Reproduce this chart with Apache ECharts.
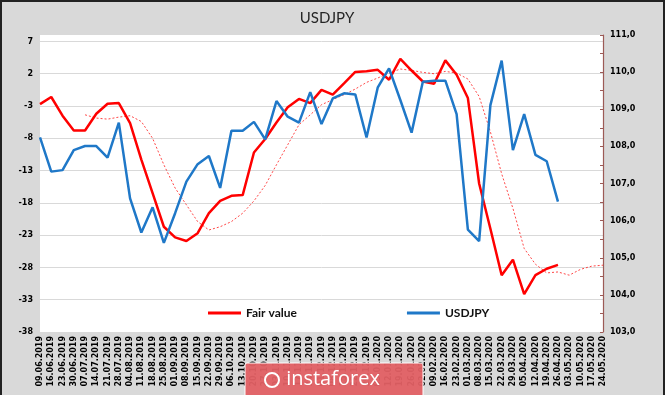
<!DOCTYPE html>
<html>
<head>
<meta charset="utf-8">
<script src="https://cdn.jsdelivr.net/npm/echarts@6/dist/echarts.min.js"></script>
<style>
html,body{margin:0;padding:0;background:#d9d9d9;}
#c{width:665px;height:395px;}
</style>
</head>
<body>
<div id="c"></div>
<script>
const categories = ["09.06.2019","16.06.2019","23.06.2019","30.06.2019","07.07.2019","14.07.2019","21.07.2019","28.07.2019","04.08.2019","11.08.2019","18.08.2019","25.08.2019","01.09.2019","08.09.2019","15.09.2019","22.09.2019","29.09.2019","06.10.2019","13.10.2019","20.10.2019","27.10.2019","03.11.2019","10.11.2019","17.11.2019","24.11.2019","01.12.2019","08.12.2019","15.12.2019","22.12.2019","29.12.2019","05.01.2020","12.01.2020","19.01.2020","26.01.2020","02.02.2020","09.02.2020","16.02.2020","23.02.2020","01.03.2020","08.03.2020","15.03.2020","22.03.2020","29.03.2020","05.04.2020","12.04.2020","19.04.2020","26.04.2020","03.05.2020","10.05.2020","17.05.2020","24.05.2020"];

const fairValue = [-2.7,-1.6,-4.5,-6.8,-6.8,-4.2,-2.65,-2.55,-5.65,-11.3,-16.5,-21.7,-23.35,-23.9,-22.7,-19.6,-17.7,-16.9,-16.8,-10.2,-8.1,-5.55,-3.2,-1.9,-2.55,-0.5,-1.25,0.5,2.27,2.4,2.6,1.07,4.3,2.5,0.8,0.45,4.07,1.85,-1.77,-15,-22,-29.2,-26.8,-32.15,-29.2,-28.2,-27.6];

const usdjpy = [108.24,107.32,107.36,107.9,108.01,108.01,107.7,108.64,106.6,105.68,106.36,105.4,106.2,107.05,107.52,107.74,106.88,108.42,108.42,108.66,108.19,109.22,108.8,108.64,109.46,108.6,109.29,109.43,109.4,108.24,109.59,110.1,109.25,108.37,109.74,109.77,109.77,108.87,105.76,105.45,109.11,110.31,107.9,108.87,107.77,107.6,106.51];

const fairValueTrend = [null,null,null,null,-4.36,-4.87,-5.03,-4.72,-4.5,-5.4,-8.0,-12.1,-15.7,-18.3,-20.9,-22.2,-21.7,-20.9,-19.6,-17.7,-15.3,-12.1,-9.0,-5.9,-4.36,-2.8,-2.0,-1.25,-0.37,0.66,1.34,2.11,2.73,2.52,2.21,2.0,2.36,2.11,1.18,-1.52,-7.0,-13.5,-18.85,-25.06,-27.5,-28.85,-28.7,-29.2,-28.3,-27.8,-27.65];

const leftAxis = {min:-38, max:8, interval:5};
const rightAxis = {min:103, max:111, interval:1};

const chart = echarts.init(document.getElementById('c'), null, {renderer:'canvas'});
const lblFont = {fontFamily:'DejaVu Sans', fontWeight:'bold', fontSize:8, color:'#000'};

chart.setOption({
  backgroundColor:'#d9d9d9',
  animation:false,
  title:{
    text:'USDJPY', left:322, top:6, textAlign:'center',
    textStyle:{fontFamily:'Lato', fontWeight:'normal', fontSize:15, color:'#262626'}
  },
  legend:{
    data:['Fair value','USDJPY'],
    left:203, top:302, itemGap:110, itemWidth:33, itemHeight:3, icon:'rect',
    textStyle:{fontFamily:'Lato', fontWeight:'bold', fontSize:12, color:'#111'}
  },
  grid:{left:40, right:62, top:35, bottom:63, show:true, backgroundColor:'#ffffff', borderWidth:0, containLabel:false},
  xAxis:{
    type:'category', data:categories, boundaryGap:false,
    axisLine:{show:false}, axisTick:{show:false},
    axisLabel:Object.assign({rotate:90, interval:0, margin:4}, lblFont),
    splitLine:{show:false}
  },
  yAxis:[
    {
      type:'value', position:'left', min:leftAxis.min, max:leftAxis.max, interval:leftAxis.interval,
      axisLine:{show:false}, axisTick:{show:false},
      axisLabel:Object.assign({margin:7, showMaxLabel:false}, lblFont),
      splitLine:{show:true, showMaxLine:false, lineStyle:{color:'#d9d9d9', width:1}}
    },
    {
      type:'value', position:'right', min:rightAxis.min, max:rightAxis.max, interval:rightAxis.interval,
      axisLine:{show:true, onZero:false, lineStyle:{color:'#9c5a56', width:1.2}},
      axisTick:{show:true, inside:true, length:3, lineStyle:{color:'#9c5a56'}},
      minorTick:{show:true, splitNumber:2, length:3, lineStyle:{color:'#9c5a56'}},
      axisLabel:Object.assign({margin:7, formatter:v=>v.toFixed(1).replace('.',',')}, lblFont),
      splitLine:{show:false}
    }
  ],
  series:[
    {
      name:'Fair value', type:'line', yAxisIndex:0, data:fairValue,
      symbol:'none', lineStyle:{color:'#ff0000', width:2.5}, itemStyle:{color:'#ff0000'}, z:3
    },
    {
      name:'Trend', type:'line', yAxisIndex:0, data:fairValueTrend,
      symbol:'none', smooth:false, lineStyle:{color:'rgba(255,40,40,0.85)', width:1, type:[2,2]}, z:2
    },
    {
      name:'USDJPY', type:'line', yAxisIndex:1, data:usdjpy,
      symbol:'none', lineStyle:{color:'#1f78c8', width:2.5}, itemStyle:{color:'#1f78c8'}, z:4
    }
  ],
  graphic:[
    {type:'rect', shape:{x:1,y:1,width:663,height:400}, style:{fill:'none', stroke:'#222', lineWidth:2}, z:100},
    {type:'rect', shape:{x:245,y:363,width:178,height:40,r:2}, style:{fill:'rgba(226,96,100,0.95)', stroke:'#ffffff', lineWidth:1}, z:101},
    {type:'circle', shape:{cx:272,cy:380,r:7}, style:{fill:'none', stroke:'#ffffff', lineWidth:2}, z:102},
    {type:'text', style:{x:333, y:379, text:'instaforex', fill:'#ffffff', font:'normal 20px "Open Sans"', align:'center', verticalAlign:'middle'}, z:102}
  ]
});
</script>
</body>
</html>
